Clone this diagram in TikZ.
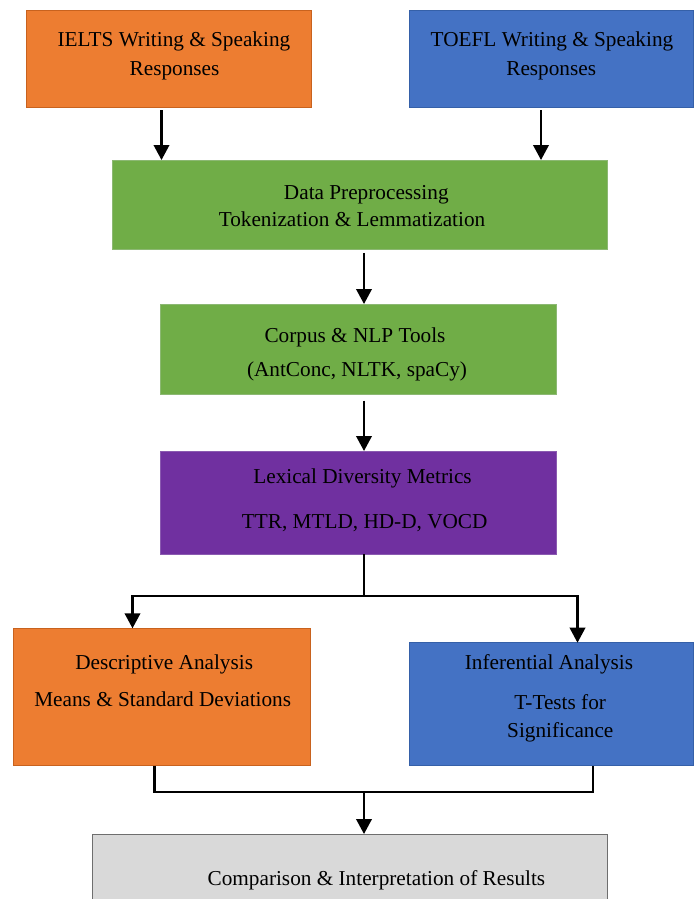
\documentclass[tikz,border=0pt]{standalone}
\usepackage{fontspec}
\setmainfont{Liberation Serif}
\usetikzlibrary{arrows.meta}
\definecolor{orangeF}{HTML}{ED7D31}
\definecolor{orangeB}{HTML}{C8621E}
\definecolor{blueF}{HTML}{4472C4}
\definecolor{blueB}{HTML}{3560A8}
\definecolor{greenF}{HTML}{70AD47}
\definecolor{greenB}{HTML}{8CB873}
\definecolor{purpleF}{HTML}{7030A0}
\definecolor{purpleB}{HTML}{8A5AB0}
\definecolor{grayF}{HTML}{D9D9D9}
\definecolor{grayB}{HTML}{6E6E6E}
\begin{document}
\begin{tikzpicture}[x=1pt,y=-1pt,
  box/.style={draw, line width=0.9pt, inner sep=0pt, outer sep=0pt},
  txt/.style={anchor=base, inner sep=0pt, outer sep=0pt, font=\fontsize{21.25}{26}\selectfont},
  conn/.style={line width=2.2pt, line join=miter},
  arr/.style={conn, -{Triangle[length=15pt,width=15.5pt]}}]
\useasboundingbox (0,0) rectangle (694,899);
\clip (0,0) rectangle (694,899);
% boxes
\node[box, fill=orangeF, draw=orangeB, minimum width=284.5pt, minimum height=96.3pt] (ielts) at (168.75,58.85) {};
\node[box, fill=blueF, draw=blueB, minimum width=284.2pt, minimum height=96.3pt] (toefl) at (551.4,58.85) {};
\node[box, fill=greenF, draw=greenB, minimum width=495pt, minimum height=89.3pt] (data) at (359.8,204.65) {};
\node[box, fill=greenF, draw=greenB, minimum width=396.4pt, minimum height=90pt] (corpus) at (358.5,349) {};
\node[box, fill=purpleF, draw=purpleB, minimum width=396.4pt, minimum height=103pt] (lex) at (358.5,502.5) {};
\node[box, fill=orangeF, draw=orangeB, minimum width=297.4pt, minimum height=137.4pt] (desc) at (162,697) {};
\node[box, fill=blueF, draw=blueB, minimum width=284.2pt, minimum height=123pt] (inf) at (551.4,704.2) {};
\node[box, fill=grayF, draw=grayB, minimum width=514.5pt, minimum height=96pt] (comp) at (349.75,882) {};
% texts
\node[txt] (t1a) at (173.9,46.5) {IELTS Writing \& Speaking};
\node[txt] (t1b) at (174.5,75) {Responses};
\node[txt] (t2a) at (552,46.5) {TOEFL Writing \& Speaking};
\node[txt] (t2b) at (551.2,75) {Responses};
\node[txt] (t3a) at (366.3,199.3) {Data Preprocessing};
\node[txt] (t3b) at (352,226) {Tokenization \& Lemmatization};
\node[txt] (t4a) at (355,342.5) {Corpus \& NLP Tools};
\node[txt] (t4b) at (357,376.5) {(AntConc, NLTK, spaCy)};
\node[txt] (t5a) at (362.5,483.5) {Lexical Diversity Metrics};
\node[txt] (t5b) at (364.7,528) {TTR, MTLD, HD-D, VOCD};
\node[txt] (t6a) at (164.2,669.3) {Descriptive Analysis};
\node[txt] (t6b) at (162.7,706) {Means \& Standard Deviations};
\node[txt] (t7a) at (549,669.3) {Inferential Analysis};
\node[txt] (t7b) at (560.2,709.8) {T-Tests for};
\node[txt] (t7c) at (560.3,737.8) {Significance};
\node[txt] (t8) at (376.4,885.5) {Comparison \& Interpretation of Results};
% helper coordinates
\coordinate (xa) at (161.5,0);
\coordinate (xb) at (541,0);
\coordinate (sp) at (364,596);
\coordinate (xd) at (132.5,0);
\coordinate (xi) at (577.5,0);
\coordinate (ml) at (154.5,792);
\coordinate (mr) at (593,792);
% connectors
\draw[arr] ([yshift=-3pt]ielts.south -| xa) -- (data.north -| xa);
\draw[arr] ([yshift=-3pt]toefl.south -| xb) -- (data.north -| xb);
\draw[arr] ([yshift=-3.5pt]data.south -| sp) -- (corpus.north -| sp);
\draw[arr] ([yshift=-6.5pt]corpus.south -| sp) -- (lex.north -| sp);
\draw[arr] (lex.south -| sp) -- (sp) -| (desc.north -| xd);
\draw[arr] (sp) -| (inf.north -| xi);
\draw[conn] (desc.south -| ml) -- (ml) -- (mr) -- (inf.south -| mr);
\draw[arr] (ml -| sp) -- (comp.north -| sp);
\end{tikzpicture}
\end{document}
